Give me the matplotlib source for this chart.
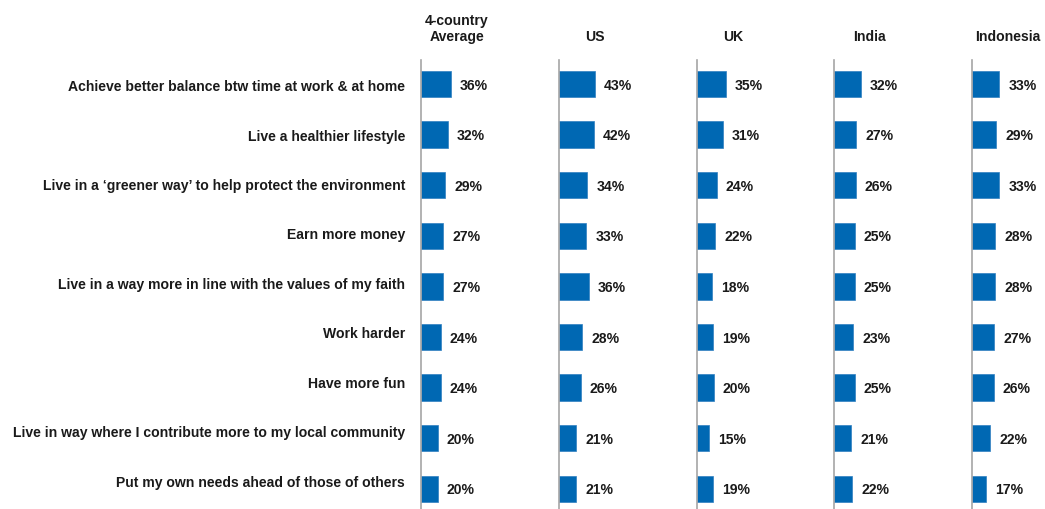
import matplotlib.pyplot as plt

plt.rcParams["font.family"] = ["Liberation Sans", "DejaVu Sans"]

# --- Data ---
statements = [
    "Achieve better balance btw time at work & at home",
    "Live a healthier lifestyle",
    "Live in a \u2018greener way\u2019 to help protect the environment",
    "Earn more money",
    "Live in a way more in line with the values of my faith",
    "Work harder",
    "Have more fun",
    "Live in way where I contribute more to my local community",
    "Put my own needs ahead of those of others",
]
columns = ["4-country\nAverage", "US", "UK", "India", "Indonesia"]

average = [36, 32, 29, 27, 27, 24, 24, 20, 20]
us = [43, 42, 34, 33, 36, 28, 26, 21, 21]
uk = [35, 31, 24, 22, 18, 19, 20, 15, 19]
india = [32, 27, 26, 25, 25, 23, 25, 21, 22]
indonesia = [33, 29, 33, 28, 28, 27, 26, 22, 17]
series = [average, us, uk, india, indonesia]

# --- Layout (in pixels) ---
W, H = 1045, 509
fig = plt.figure(figsize=(W / 100, H / 100), dpi=100)

panel_left = [421, 559, 697, 834, 972]
panel_w = 130
top_px = 60
row0_px = 84
row_step = 50.6
px_per_pct = 0.83
fs = 10.1

bar_color = "#0068B3"
line_color = "#A6A6A6"
text_color = "#1A1A1A"

for k, (x0, values) in enumerate(zip(panel_left, series)):
    ax = fig.add_axes([x0 / W, 0, panel_w / W, (H - top_px) / H])
    rows = list(range(len(values)))
    ax.barh(rows, values, height=0.52, color=bar_color, edgecolor="#2F7FC1",
            linewidth=0.5)
    ax.set_xlim(0, panel_w / px_per_pct)
    ax.set_ylim((H - row0_px) / row_step, -(row0_px - top_px) / row_step)
    for r, v in zip(rows, values):
        ax.text(v + 9 / px_per_pct, r + 0.03, f"{v}%", va="center", ha="left",
                fontsize=fs, fontweight="bold", color=text_color)
    for side in ["top", "right", "bottom"]:
        ax.spines[side].set_visible(False)
    ax.spines["left"].set_color(line_color)
    ax.spines["left"].set_linewidth(1.2)
    ax.set_xticks([])
    ax.set_yticks([])
    ax.patch.set_visible(False)

    # column heading
    fig.text((x0 + 36) / W, 1 - 41 / H, columns[k], ha="center", va="baseline",
             fontsize=fs, fontweight="bold", color=text_color, linespacing=1.22)

# statement labels on the left
for r, s in enumerate(statements):
    y = 87 + r * 49.5
    fig.text(405 / W, 1 - y / H, s, ha="right", va="center",
             fontsize=fs, fontweight="bold", color=text_color)

plt.savefig("out.png", dpi=100)
